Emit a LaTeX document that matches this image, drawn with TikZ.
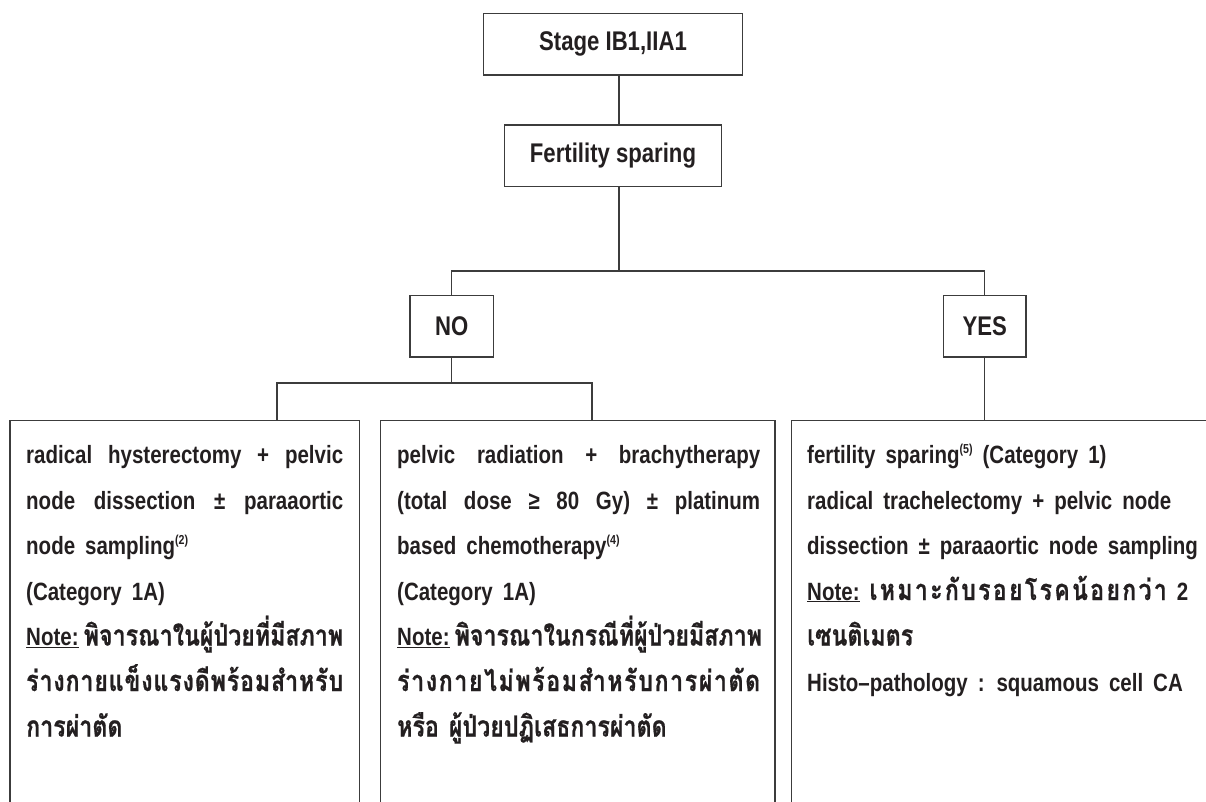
\documentclass[tikz,border=0pt]{standalone}
\usepackage{fontspec}
\setmainfont{Liberation Sans}[FakeStretch=0.82]
\newfontfamily\thaifont{Loma}[Script=Thai, FakeStretch=0.8, BoldFeatures={FakeBold=0.6}]
\usetikzlibrary{calc}

\definecolor{ink}{HTML}{231F20}
\definecolor{rulegray}{HTML}{3C3C3C}

% Thai runs, reference marks and line helpers for the treatment panels
\newcommand\tht[1]{{\fontsize{29}{45.5}\thaifont\bfseries #1}}
\newcommand\refmark[1]{\raisebox{10pt}{\fontsize{13}{13}\selectfont(#1)}}
\newcommand\fillline[1]{\makebox[\linewidth][s]{#1}\par}
\newcommand\spreadline[2]{\makebox[#1][s]{#2}\par}
\newcommand\plainline[1]{\mbox{#1}\par}
\newcommand\gap{\hfil}
\newcommand\panelfont{\fontsize{25}{45.5}\selectfont\bfseries
  \spaceskip=10pt plus 30pt minus 5pt\relax}

\tikzset{
  box/.style={draw=rulegray, line width=1.3pt, rectangle, inner sep=0pt,
    text=ink, font=\fontsize{27}{30}\selectfont\bfseries},
  panel/.style={draw=rulegray, line width=1.3pt, rectangle, inner sep=0pt,
    anchor=north west, minimum height=420pt},
  wire/.style={draw=rulegray, line width=1.3pt},
  body/.style={anchor=base west, inner sep=0pt, text=ink}
}

\begin{document}
\begin{tikzpicture}[x=1pt,y=-1pt]
\clip (0,0) rectangle (1206,801);

% decision boxes
\node[box, minimum width=258.6pt, minimum height=61.7pt] (stage) at (613,44) {Stage IB1,IIA1};
\node[box, minimum width=217.4pt, minimum height=61.3pt] (fert) at (613,155.6) {Fertility sparing};
\node[box, minimum width=83.3pt, minimum height=61.7pt] (no) at (451.7,326) {NO};
\node[box, minimum width=82.7pt, minimum height=61.7pt] (yes) at (984.7,326) {YES};

% treatment panels (run past the lower edge)
\node[panel, minimum width=349.7pt] (left) at (9.3,420) {};
\node[panel, minimum width=394.3pt] (mid) at (380,420) {};
\node[panel, minimum width=450pt] (right) at (791,420) {};

% connectors
\coordinate (trunk) at (619,0);
\coordinate (split) at (619,271);
\coordinate (dropL) at (277,383);
\coordinate (dropM) at (592,383);
\draw[wire] (stage.south -| trunk) -- (fert.north -| trunk);
\draw[wire] (fert.south -| trunk) -- (split);
\draw[wire] (no.north) |- (split) -| (yes.north);
\draw[wire] (no.south) -- (no.south |- dropL);
\draw[wire] (left.north -| dropL) -- (dropL) -- (dropM) -- (mid.north -| dropM);
\draw[wire] (yes.south) -- (right.north -| yes.south);

% panel texts
\node[body] (lefttext) at (26,463.5) {\parbox[t]{317pt}{\panelfont
\fillline{radical hysterectomy + pelvic}
\fillline{node dissection ± paraaortic}
\plainline{node sampling\refmark{2}}
\plainline{(Category 1A)}
\fillline{\underline{Note:} \tht{พิจารณาในผู้ป่วยที่มีสภาพ}}
\fillline{\tht{ร่\gap า\gap ง\gap ก\gap า\gap ย\gap แ\gap ข็\gap ง\gap แ\gap ร\gap ง\gap ดี\gap พ\gap ร้\gap อ\gap ม\gap สำ\gap ห\gap รั\gap บ}}
\plainline{\tht{การผ่าตัด}}}};

\node[body] (midtext) at (397,463.5) {\parbox[t]{363pt}{\panelfont
\fillline{pelvic radiation + brachytherapy}
\fillline{(total dose ≥ 80 Gy) ± platinum}
\plainline{based chemotherapy\refmark{4}}
\plainline{(Category 1A)}
\fillline{\underline{Note:} \tht{พิจารณาในกรณีที่ผู้ป่วยมีสภาพ}}
\fillline{\tht{ร่\gap า\gap ง\gap ก\gap า\gap ย\gap ไ\gap ม่\gap พ\gap ร้\gap อ\gap ม\gap สำ\gap ห\gap รั\gap บ\gap ก\gap า\gap ร\gap ผ่\gap า\gap ตั\gap ด}}
\plainline{\tht{หรือ ผู้ป่วยปฏิเสธการผ่าตัด}}}};

\node[body] (righttext) at (807,463.5) {\parbox[t]{395pt}{\panelfont
\plainline{fertility sparing\refmark{5} (Category 1)}
\plainline{radical trachelectomy + pelvic node}
\plainline{dissection ± paraaortic node sampling}
\spreadline{381pt}{\underline{Note:} \tht{เ\gap ห\gap ม\gap า\gap ะ\gap กั\gap บ\gap ร\gap อ\gap ย\gap โ\gap ร\gap ค\gap น้\gap อ\gap ย\gap ก\gap ว่\gap า} 2}
\plainline{\tht{เซนติเมตร}}
\plainline{Histo–pathology : squamous cell CA}}};
\end{tikzpicture}
\end{document}
